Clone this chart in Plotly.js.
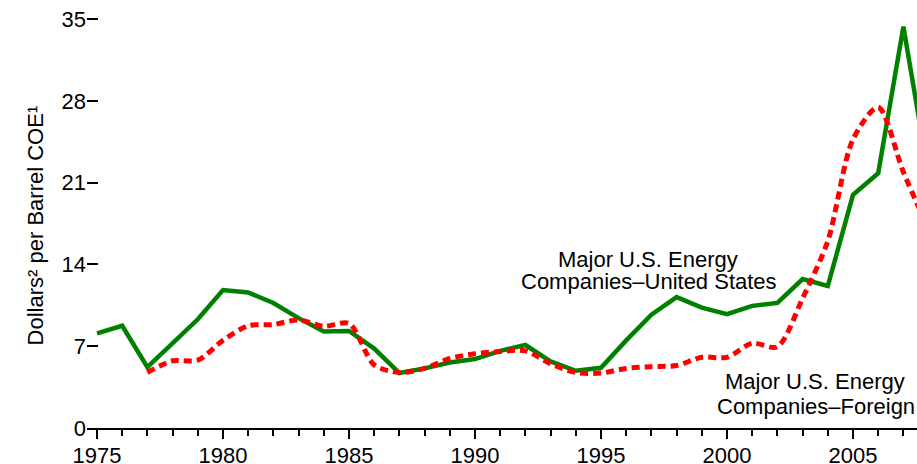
<!DOCTYPE html>
<html>
<head>
<meta charset="utf-8">
<script src="https://cdn.plot.ly/plotly-3.0.1.min.js"></script>
<style>
html,body{margin:0;padding:0;background:#fff;}
#chart{width:917px;height:464px;}
</style>
</head>
<body>
<div id="chart"></div>
<script>
// Data
const yearsUS = [1975,1976,1977,1978,1979,1980,1981,1982,1983,1984,1985,1986,1987,1988,1989,1990,1991,1992,1993,1994,1995,1996,1997,1998,1999,2000,2001,2002,2003,2004,2005,2006,2007,2008];
const valuesUS = [8.1,8.75,5.2,7.3,9.3,11.8,11.6,10.7,9.4,8.25,8.3,6.8,4.7,5.1,5.6,5.9,6.6,7.1,5.7,4.9,5.15,7.5,9.7,11.2,10.3,9.75,10.45,10.7,12.75,12.15,19.95,21.8,34.35,21.6];
const yearsForeign = [1977,1978,1979,1980,1981,1982,1983,1984,1985,1986,1987,1988,1989,1990,1991,1992,1993,1994,1995,1996,1997,1998,1999,2000,2001,2002,2003,2004,2005,2006,2007,2008];
const valuesForeign = [4.75,5.75,5.8,7.5,8.75,8.85,9.25,8.7,8.95,5.4,4.75,5.1,5.95,6.35,6.55,6.6,5.5,4.75,4.7,5.1,5.25,5.35,6.05,6.05,7.25,6.95,11.1,16.0,24.7,27.45,21.9,17.0];
const yTicks = [0,7,14,21,28,35];
const xTicks = [1975,1980,1985,1990,1995,2000,2005];
const labelUS = ["Major U.S. Energy", "Companies\u2013United States"];
const labelForeign = ["Major U.S. Energy", "Companies\u2013Foreign"];
const yTitle = "Dollars\u00B2 per Barrel COE\u00B9";

const FONT = "'Liberation Sans', Arial, sans-serif";

// pixel geometry helpers (layout only)
const plotLeft = 87, plotRight = 917, plotTop = 0, plotBottom = 428;
const pxPerYear = 25.2;
const px0Year = 97; // pixel of 1975
const pxPerUnit = (428 - 19) / 35;
const xr = [1975 + (plotLeft - px0Year) / pxPerYear, 1975 + (plotRight - px0Year) / pxPerYear];
const yr = [0, (plotBottom - plotTop) / pxPerUnit];
const xAt = p => 1975 + (p - px0Year) / pxPerYear;
const yAt = p => (plotBottom - p) / pxPerUnit;

const traces = [
  {x: yearsUS, y: valuesUS, type: 'scatter', mode: 'lines',
   line: {color: '#008000', width: 4.5}, name: 'United States', hoverinfo: 'x+y'},
  {x: yearsForeign, y: valuesForeign, type: 'scatter', mode: 'lines',
   line: {color: '#ff0000', width: 5, dash: '8px,5px', shape: 'spline', smoothing: 0.8}, name: 'Foreign', hoverinfo: 'x+y'}
];

const annFont = {family: FONT, size: 22, color: '#000'};
const annotations = [
  {x: xAt(648), y: yAt(259.4), xref: 'x', yref: 'y', text: labelUS[0], showarrow: false, xanchor: 'center', yanchor: 'middle', font: annFont},
  {x: xAt(649), y: yAt(281.7), xref: 'x', yref: 'y', text: labelUS[1], showarrow: false, xanchor: 'center', yanchor: 'middle', font: annFont},
  {x: xAt(815), y: yAt(381.4), xref: 'x', yref: 'y', text: labelForeign[0], showarrow: false, xanchor: 'center', yanchor: 'middle', font: annFont},
  {x: xAt(816), y: yAt(406.4), xref: 'x', yref: 'y', text: labelForeign[1], showarrow: false, xanchor: 'center', yanchor: 'middle', font: annFont},
  {x: (35.4 - plotLeft) / (plotRight - plotLeft), y: yAt(225), xref: 'paper', yref: 'y', text: yTitle, textangle: -90, showarrow: false, xanchor: 'center', yanchor: 'middle', font: annFont}
];

const layout = {
  width: 917, height: 464,
  margin: {l: plotLeft, r: 917 - plotRight, t: plotTop, b: 464 - plotBottom, pad: 0},
  paper_bgcolor: '#fff', plot_bgcolor: '#fff',
  showlegend: false,
  font: {family: FONT, size: 22, color: '#000'},
  xaxis: {
    range: xr, showgrid: false, zeroline: false,
    showline: true, linecolor: '#000', linewidth: 2,
    tickmode: 'array', tickvals: xTicks, ticktext: xTicks.map(String),
    ticks: 'outside', ticklen: 9, tickwidth: 2, tickcolor: '#000',
    ticklabelstandoff: -2,
    minor: {dtick: 1, tick0: 1975, ticks: 'outside', ticklen: 6, tickwidth: 2, tickcolor: '#000', showgrid: false},
    tickfont: {family: FONT, size: 22, color: '#000'},
    fixedrange: true
  },
  yaxis: {
    range: yr, showgrid: false, zeroline: false, showline: false,
    tickmode: 'array', tickvals: yTicks, ticktext: yTicks.map(String),
    ticks: 'inside', ticklen: 11, tickwidth: 2, tickcolor: '#000',
    tickfont: {family: FONT, size: 22, color: '#000'},
    fixedrange: true
  },
  annotations: annotations
};

Plotly.newPlot('chart', traces, layout, {displayModeBar: false, staticPlot: true});
</script>
</body>
</html>
